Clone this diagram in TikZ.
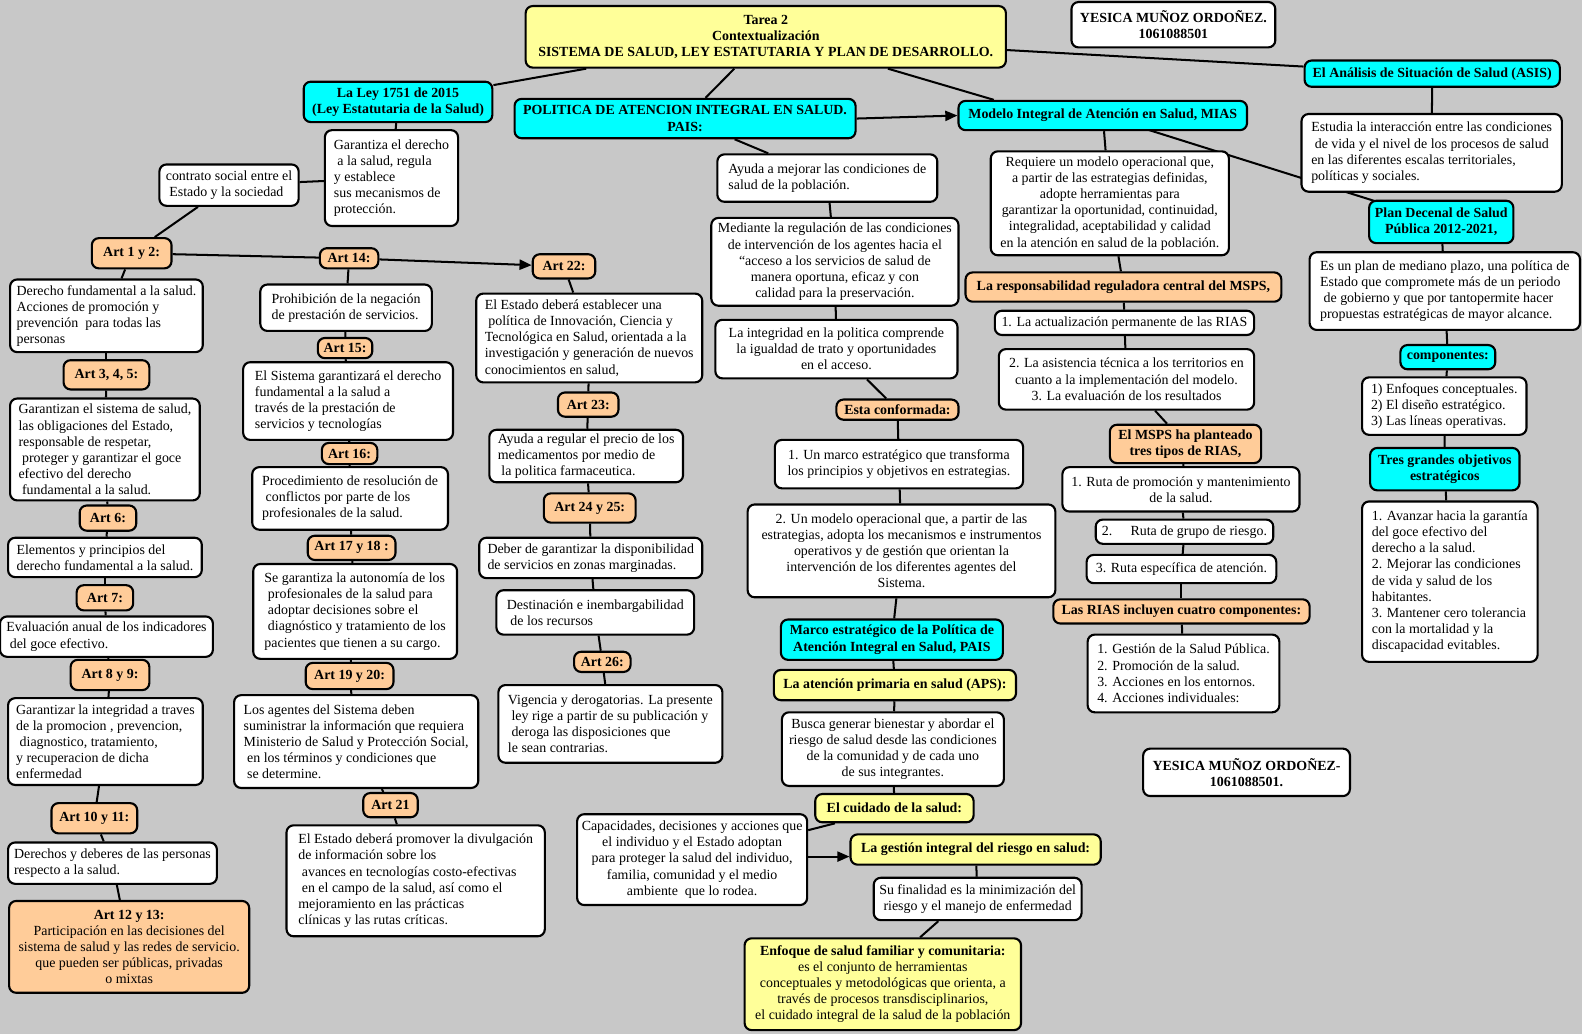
\documentclass[tikz,border=0pt]{standalone}
\usepackage{fontspec}
\setmainfont{Liberation Serif}
\usetikzlibrary{arrows.meta}
\definecolor{bgc}{RGB}{200,200,200}
\definecolor{cyanc}{RGB}{0,255,255}
\definecolor{orc}{RGB}{255,204,153}
\definecolor{ylc}{RGB}{255,255,153}
\newcommand\fsz{\fontsize{13.8}{16}\selectfont}
\newcommand\Lsp{\hspace*{3.5pt}}
\newcommand\bx[7]{\node[#1, minimum width={#5-#3}, minimum height={#6-#4}] (#2) at ({(#3+#5)/2},{(#4+#6)/2}) {#7};}
\pgfdeclarelayer{bgl}
\pgfdeclarelayer{edges}
\pgfsetlayers{bgl,edges,main}
\tikzset{
  boxbase/.style={draw=black, line width=2.1pt, rounded corners=7pt, inner sep=2pt, font=\fsz, align=center},
  wb/.style={boxbase, fill=white},
  wl/.style={boxbase, fill=white, align=left},
  wbb/.style={boxbase, fill=white, font=\fsz\bfseries},
  cy/.style={boxbase, fill=cyanc, font=\fsz\bfseries},
  og/.style={boxbase, fill=orc, font=\fsz\bfseries},
  ogn/.style={boxbase, fill=orc},
  yl/.style={boxbase, fill=ylc, font=\fsz\bfseries},
  yln/.style={boxbase, fill=ylc},
  link/.style={line width=2pt, draw=black},
  arr/.style={link, -{Triangle[length=12pt,width=10pt]}},
}
\begin{document}
\begin{tikzpicture}[x=1pt,y=-1pt]
\begin{pgfonlayer}{bgl}
\fill[bgc] (0,0) rectangle (1568,1025);
\end{pgfonlayer}
\useasboundingbox (0,0) rectangle (1568,1025);

% ---- top ----
\bx{yl}{tarea}{521}{6}{997}{67}{Tarea 2\\Contextualización\\SISTEMA DE SALUD, LEY ESTATUTARIA Y PLAN DE DESARROLLO.}
\bx{wbb}{yes1}{1062}{2}{1264}{47}{YESICA MUÑOZ ORDOÑEZ.\\1061088501}
\bx{cy}{ley}{301}{81}{488}{121}{La Ley 1751 de 2015\\(Ley Estatutaria de la Salud)}
\bx{cy}{pol}{510}{98}{848}{137}{POLITICA DE ATENCION INTEGRAL EN SALUD.\\PAIS:}
\bx{cy}{mias}{950}{100}{1236}{129}{Modelo Integral de Atención en Salud, MIAS}
\bx{cy}{asis}{1293}{60}{1546}{86}{El Análisis de Situación de Salud (ASIS)}

% ---- left branch ----
\bx{wl}{gar}{322}{129}{454}{224}{Garantiza el derecho\\\Lsp a la salud, regula\\y establece\\sus mecanismos de\\protección.}
\bx{wl}{contr}{158}{163}{296}{204}{contrato social entre el\\\Lsp Estado y la sociedad}
\bx{og}{a12}{91}{236}{170}{266}{Art 1 y 2:}
\bx{og}{a14}{317}{246}{375}{266}{Art 14:}
\bx{og}{a22}{528}{252}{590}{276}{Art 22:}
\bx{wl}{der}{10}{277}{201}{349}{Derecho fundamental a la salud.\\Acciones de promoción y\\prevención \ para todas las\\personas}
\bx{og}{a345}{63}{357}{148}{386}{Art 3, 4, 5:}
\bx{wl}{garz}{10}{395}{198}{496}{Garantizan el sistema de salud,\\las obligaciones del Estado,\\responsable de respetar,\\\Lsp proteger y garantizar el goce\\efectivo del derecho\\\Lsp fundamental a la salud.}
\bx{og}{a6}{79}{501}{135}{526}{Art 6:}
\bx{wl}{elem}{8}{533}{200}{572}{Elementos y principios del\\derecho fundamental a la salud.}
\bx{og}{a7}{76}{580}{132}{605}{Art 7:}
\bx{wl}{eval}{0}{611}{211}{651}{Evaluación anual de los indicadores\\\Lsp del goce efectivo.}
\bx{og}{a89}{70}{654}{148}{684}{Art 8 y 9:}
\bx{wl}{garint}{8}{692}{201}{778}{Garantizar la integridad a traves\\de la promocion , prevencion,\\\Lsp diagnostico, tratamiento,\\y recuperacion de dicha\\enfermedad}
\bx{og}{a1011}{51}{796}{136}{826}{Art 10 y 11:}
\bx{wl}{derech}{8}{835}{215}{876}{Derechos y deberes de las personas\\respecto a la salud.}
\bx{ogn}{a1213}{9}{893}{247}{984}{\textbf{Art 12 y 13:}\\Participación en las decisiones del\\sistema de salud y las redes de servicio.\\que pueden ser públicas, privadas\\o mixtas}

% ---- Art 14 column ----
\bx{wl}{proh}{258}{282}{428}{328}{Prohibición de la negación\\de prestación de servicios.}
\bx{og}{a15}{315}{335}{369}{355}{Art 15:}
\bx{wl}{sist}{241}{359}{449}{436}{El Sistema garantizará el derecho\\fundamental a la salud a\\través de la prestación de\\servicios y tecnologías}
\bx{og}{a16}{319}{439}{374}{460}{Art 16:}
\bx{wl}{proc}{250}{463}{444}{525}{Procedimiento de resolución de\\\Lsp conflictos por parte de los\\profesionales de la salud.}
\bx{og}{a1718}{305}{531}{392}{555}{Art 17 y 18 :}
\bx{wl}{segar}{251}{559}{453}{653}{Se garantiza la autonomía de los\\\Lsp profesionales de la salud para\\\Lsp adoptar decisiones sobre el\\\Lsp diagnóstico y tratamiento de los\\pacientes que tienen a su cargo.}
\bx{og}{a1920}{303}{657}{390}{683}{Art 19 y 20:}
\bx{wl}{agent}{232}{689}{474}{781}{Los agentes del Sistema deben\\suministrar la información que requiera\\Ministerio de Salud y Protección Social,\\\Lsp en los términos y condiciones que\\\Lsp se determine.}
\bx{og}{a21}{360}{786}{414}{810}{Art 21}
\bx{wl}{prom}{284}{818}{540}{928}{El Estado deberá promover la divulgación\\de información sobre los\\\Lsp avances en tecnologías costo-efectivas\\\Lsp en el campo de la salud, así como el\\mejoramiento en las prácticas\\clínicas y las rutas críticas.}

% ---- Art 22 column ----
\bx{wl}{est22}{472}{291}{696}{379}{El Estado deberá establecer una\\\Lsp política de Innovación, Ciencia y\\Tecnológica en Salud, orientada a la\\investigación y generación de nuevos\\conocimientos en salud,}
\bx{og}{a23}{553}{389}{613}{413}{Art 23:}
\bx{wl}{regul}{485}{426}{677}{478}{Ayuda a regular el precio de los\\medicamentos por medio de\\\Lsp la politica farmaceutica.}
\bx{og}{a2425}{539}{489}{630}{518}{Art 24 y 25:}
\bx{wl}{deber}{475}{533}{696}{573}{Deber de garantizar la disponibilidad\\de servicios en zonas marginadas.}
\bx{wl}{dest}{492}{585}{688}{629}{Destinación e inembargabilidad\\\Lsp de los recursos}
\bx{og}{a26}{569}{646}{625}{666}{Art 26:}
\bx{wl}{vig}{494}{679}{716}{756}{Vigencia y derogatorias. La presente\\\Lsp ley rige a partir de su publicación y\\\Lsp deroga las disposiciones que\\le sean contrarias.}

% ---- PAIS column ----
\bx{wl}{ayuda}{711}{153}{929}{200}{Ayuda a mejorar las condiciones de\\salud de la población.}
\bx{wb}{med}{705}{216}{950}{303}{Mediante la regulación de las condiciones\\de intervención de los agentes hacia el\\“acceso a los servicios de salud de\\manera oportuna, eficaz y con\\calidad para la preservación.}
\bx{wb}{integ}{709}{317}{949}{375}{La integridad en la politica comprende\\la igualdad de trato y oportunidades\\en el acceso.}
\bx{og}{conf}{829}{396}{950}{416}{Esta conformada:}
\bx{wb}{marco1}{768}{436}{1014}{484}{1. Un marco estratégico que transforma\\los principios y objetivos en estrategias.}
\bx{wb}{modelo}{741}{500}{1046}{592}{2. Un modelo operacional que, a partir de las\\estrategias, adopta los mecanismos e instrumentos\\operativos y de gestión que orientan la\\intervención de los diferentes agentes del\\Sistema.}
\bx{cy}{marcoE}{774}{614}{994}{654}{Marco estratégico de la Política de\\Atención Integral en Salud, PAIS}
\bx{yl}{aps}{767}{664}{1007}{694}{La atención primaria en salud (APS):}
\bx{wb}{busca}{775}{706}{995}{779}{Busca generar bienestar y abordar el\\riesgo de salud desde las condiciones\\de la comunidad y de cada uno\\de sus integrantes.}
\bx{yl}{cuid}{808}{787}{965}{815}{El cuidado de la salud:}
\bx{wb}{capac}{572}{807}{800}{897}{Capacidades, decisiones y acciones que\\el individuo y el Estado adoptan\\para proteger la salud del individuo,\\familia, comunidad y el medio\\ambiente \ que lo rodea.}
\bx{yl}{gint}{843}{827}{1091}{857}{La gestión integral del riesgo en salud:}
\bx{wb}{final}{866}{870}{1072}{912}{Su finalidad es la minimización del\\riesgo y el manejo de enfermedad}
\bx{yln}{enfoq}{738}{930}{1012}{1021}{\textbf{Enfoque de salud familiar y comunitaria:}\\es el conjunto de herramientas\\conceptuales y metodológicas que orienta, a\\través de procesos transdisciplinarios,\\el cuidado integral de la salud de la población}

% ---- MIAS column ----
\bx{wb}{req}{982}{150}{1218}{253}{Requiere un modelo operacional que,\\a partir de las estrategias definidas,\\adopte herramientas para\\garantizar la oportunidad, continuidad,\\integralidad, aceptabilidad y calidad\\en la atención en salud de la población.}
\bx{og}{resp}{957}{270}{1270}{299}{La responsabilidad reguladora central del MSPS,}
\bx{wb}{act}{986}{308}{1243}{332}{1. La actualización permanente de las RIAS}
\bx{wb}{asist}{990}{346}{1243}{406}{2. La asistencia técnica a los territorios en\\cuanto a la implementación del modelo.\\3. La evaluación de los resultados}
\bx{og}{msps}{1100}{421}{1250}{459}{El MSPS ha planteado\\tres tipos de RIAS,}
\bx{wb}{ruta1}{1053}{463}{1288}{507}{1. Ruta de promoción y mantenimiento\\de la salud.}
\bx{wb}{ruta2}{1086}{515}{1262}{539}{2.\hspace{1.3em}Ruta de grupo de riesgo.}
\bx{wb}{ruta3}{1077}{550}{1265}{578}{3. Ruta específica de atención.}
\bx{og}{rias}{1044}{594}{1298}{618}{Las RIAS incluyen cuatro componentes:}
\bx{wl}{gest}{1078}{629}{1268}{706}{1. Gestión de la Salud Pública.\\2. Promoción de la salud.\\3. Acciones en los entornos.\\4. Acciones individuales:}
\bx{wbb}{yes2}{1133}{742}{1338}{789}{YESICA MUÑOZ ORDOÑEZ-\\1061088501.}

% ---- ASIS column ----
\bx{wl}{est}{1290}{113}{1548}{190}{Estudia la interacción entre las condiciones\\\Lsp de vida y el nivel de los procesos de salud\\en las diferentes escalas territoriales,\\políticas y sociales.}
\bx{cy}{plan}{1357}{199}{1500}{241}{Plan Decenal de Salud\\Pública 2012-2021,}
\bx{wl}{esplan}{1298}{250}{1566}{327}{Es un plan de mediano plazo, una política de\\Estado que compromete más de un periodo\\\Lsp de gobierno y que por tantopermite hacer\\propuestas estratégicas de mayor alcance.}
\bx{cy}{comp}{1388}{342}{1482}{366}{componentes:}
\bx{wl}{enf}{1350}{374}{1513}{431}{1) Enfoques conceptuales.\\2) El diseño estratégico.\\3) Las líneas operativas.}
\bx{cy}{tres}{1358}{444}{1506}{486}{Tres grandes objetivos\\estratégicos}
\bx{wl}{avanz}{1350}{497}{1524}{656}{1. Avanzar hacia la garantía\\del goce efectivo del\\derecho a la salud.\\2. Mejorar las condiciones\\de vida y salud de los\\habitantes.\\3. Mantener cero tolerancia\\con la mortalidad y la\\discapacidad evitables.}

\coordinate (gin) at ([yshift=-7pt]gint.west);

\begin{pgfonlayer}{edges}
% top
\draw[link] (tarea) -- (ley);
\draw[link] (tarea) -- (pol);
\draw[link] ([xshift=121pt]tarea.south) -- ([xshift=-108pt]mias.north);
\draw[link] (tarea) -- (asis);
\draw[arr] (pol.east) -- (mias.west);
% left
\draw[link] (ley) -- (gar);
\draw[link] (gar) -- (contr);
\draw[link] (contr) -- (a12);
\draw[link] (a12) -- (a14);
\draw[arr] (a14) -- (a22);
\draw[link] (a12) -- (der);
\draw[link] (der) -- (a345);
\draw[link] (a345) -- (garz);
\draw[link] (garz) -- (a6);
\draw[link] (a6) -- (elem);
\draw[link] (elem) -- (a7);
\draw[link] (a7) -- (eval);
\draw[link] (eval) -- (a89);
\draw[link] (a89) -- (garint);
\draw[link] (garint) -- (a1011);
\draw[link] (a1011) -- (derech);
\draw[link] (derech) -- (a1213);
% art 14 column
\draw[link] (a14) -- (proh);
\draw[link] (proh) -- (a15);
\draw[link] (a15) -- (sist);
\draw[link] (sist) -- (a16);
\draw[link] (a16) -- (proc);
\draw[link] (proc) -- (a1718);
\draw[link] (a1718) -- (segar);
\draw[link] (segar) -- (a1920);
\draw[link] (a1920) -- (agent);
\draw[link] (agent) -- (a21);
\draw[link] (a21) -- (prom);
% art 22 column
\draw[link] (a22) -- (est22);
\draw[link] (est22) -- (a23);
\draw[link] (a23) -- (regul);
\draw[link] (regul) -- (a2425);
\draw[link] (a2425) -- (deber);
\draw[link] (deber) -- (dest);
\draw[link] (dest) -- (a26);
\draw[link] (a26) -- (vig);
% PAIS column
\draw[link] (pol) -- (ayuda);
\draw[link] (ayuda) -- (med);
\draw[link] (med) -- (integ);
\draw[link] (integ) -- (conf);
\draw[link] (conf) -- (marco1);
\draw[link] (marco1) -- (modelo);
\draw[link] (modelo) -- (marcoE);
\draw[link] (marcoE) -- (aps);
\draw[link] (aps) -- (busca);
\draw[link] (busca) -- (cuid);
\draw[link] (cuid) -- (capac);
\draw[arr] (gin -| capac.east) -- (gin);
\draw[link] (gint) -- (final);
\draw[link] ([xshift=-39pt]final.south) -- ([xshift=37pt]enfoq.north);
% MIAS column
\draw[link] (mias) -- (req);
\draw[link] (mias.center) -- (plan.center);
\draw[link] (req) -- (resp);
\draw[link] (resp) -- (act);
\draw[link] (act) -- (asist);
\draw[link] (asist) -- (msps);
\draw[link] (msps) -- (ruta1);
\draw[link] (ruta1) -- (ruta2);
\draw[link] (ruta2) -- (ruta3);
\draw[link] (ruta3) -- (rias);
\draw[link] (rias) -- (gest);
% ASIS column
\draw[link] (asis) -- (est);
\draw[link] (plan) -- (esplan);
\draw[link] (esplan) -- (comp);
\draw[link] (comp) -- (enf);
\draw[link] (enf) -- (tres);
\draw[link] (tres) -- (avanz);
\end{pgfonlayer}
\end{tikzpicture}
\end{document}
